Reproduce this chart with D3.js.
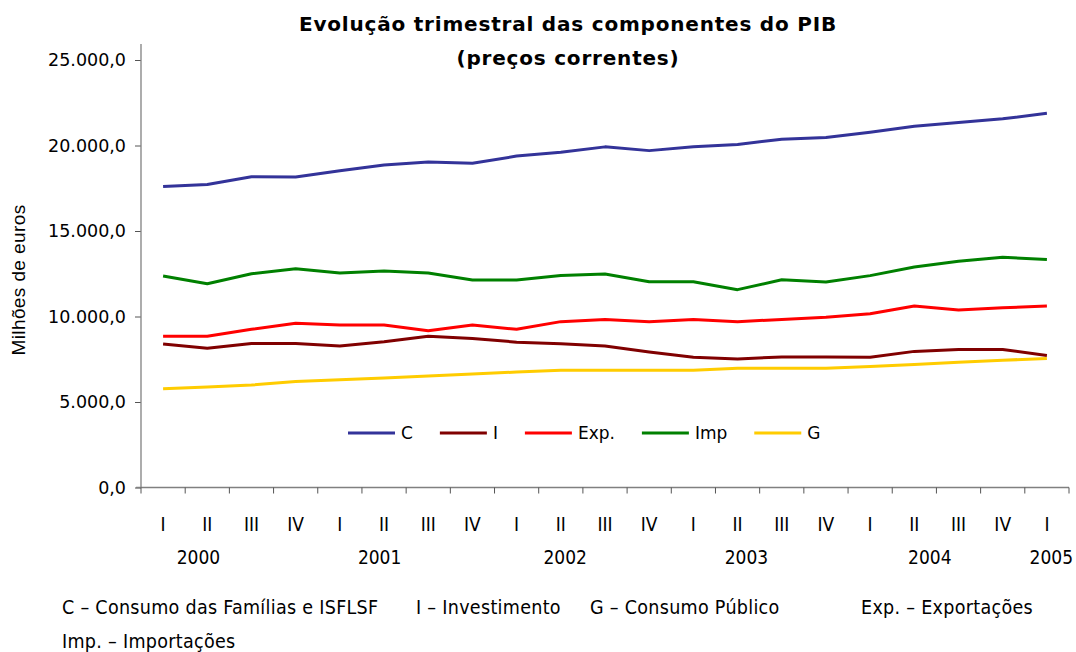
<!DOCTYPE html>
<html>
<head>
<meta charset="utf-8">
<script src="https://cdn.jsdelivr.net/npm/d3@7"></script>
<style>
  body { margin: 0; background: #fff; }
  svg { display: block; }
  .narrow { font-family: "Liberation Sans Narrow", "DejaVu Sans Condensed", "Arial Narrow", sans-serif; }
</style>
</head>
<body>
<div id="chart"></div>
<script>
// quarters 2000 I .. 2005 I
var quarters = ["I","II","III","IV","I","II","III","IV","I","II","III","IV","I","II","III","IV","I","II","III","IV","I"];
var years = ["2000","2001","2002","2003","2004","2005"];
var yearAt = [0.8, 4.9, 9.1, 13.2, 17.35, 20.1]; // category index under which each year label sits

var seriesC   = [17600,17720,18170,18160,18520,18860,19030,18960,19380,19600,19920,19700,19920,20060,20370,20470,20780,21130,21350,21560,21880];
var seriesI   = [8390,8150,8420,8420,8280,8520,8850,8720,8500,8400,8280,7930,7620,7520,7630,7630,7620,7960,8070,8070,7720];
var seriesExp = [8850,8850,9250,9600,9500,9500,9170,9500,9250,9700,9820,9690,9830,9690,9830,9950,10160,10610,10380,10510,10610];
var seriesImp = [12370,11920,12500,12790,12540,12660,12540,12140,12140,12400,12480,12030,12030,11570,12150,12020,12390,12890,13230,13460,13340];
var seriesG   = [5780,5870,5990,6200,6300,6400,6520,6640,6750,6850,6850,6850,6850,6970,6970,6970,7080,7200,7320,7440,7550];

var seriesNames = ["C","I","Exp.","Imp","G"];
var seriesColors = ["#333399","#800000","#ff0000","#008000","#ffcc00"];
var yTicks = [0,5000,10000,15000,20000,25000];

var footnotes = [
  {text:"C \u2013 Consumo das Famílias e ISFLSF", x:62, y:614},
  {text:"I \u2013 Investimento", x:416, y:614},
  {text:"G \u2013 Consumo Público", x:590, y:614},
  {text:"Exp. \u2013 Exportações", x:861, y:614},
  {text:"Imp. \u2013 Importações", x:62, y:648}
];

var width = 1076, height = 652;
var plot = {left:141, right:1069, top:44, bottom:487.5};

var svg = d3.select("#chart").append("svg")
    .attr("width", width)
    .attr("height", height);

var x = d3.scaleLinear().domain([-0.5, quarters.length - 0.5]).range([plot.left, plot.right]);
var y = d3.scaleLinear().domain([0, 25000]).range([plot.bottom, 60]);

var fmt = function(d) {
  return d3.format(",.1f")(d).replace(/,/g, "#").replace(".", ",").replace(/#/g, ".");
};

// title
svg.append("text")
    .attr("x", 568).attr("y", 31)
    .attr("text-anchor", "middle")
    .style("font-family", "DejaVu Sans, Verdana, sans-serif")
    .style("font-weight", "bold")
    .style("font-size", "20px")
    .style("letter-spacing", "0.8px")
    .text("Evolução trimestral das componentes do PIB");
svg.append("text")
    .attr("x", 568).attr("y", 65)
    .attr("text-anchor", "middle")
    .style("font-family", "DejaVu Sans, Verdana, sans-serif")
    .style("font-weight", "bold")
    .style("font-size", "20px")
    .style("letter-spacing", "0.8px")
    .text("(preços correntes)");

// y axis
var yAxis = d3.axisLeft(y).tickValues(yTicks).tickFormat(fmt).tickSize(6).tickPadding(9);
var gy = svg.append("g")
    .attr("transform", "translate(" + plot.left + ",0)")
    .call(yAxis);
gy.select(".domain").remove();
gy.selectAll(".tick line").attr("stroke", "#555");
gy.selectAll("text")
    .style("font-family", "DejaVu Sans, Verdana, sans-serif")
    .style("font-size", "17.5px")
    .attr("fill", "#000");
svg.append("line")
    .attr("x1", plot.left).attr("x2", plot.left)
    .attr("y1", plot.top).attr("y2", plot.bottom)
    .attr("stroke", "#808080").attr("stroke-width", 1.3);

svg.append("text")
    .attr("transform", "translate(25,280) rotate(-90)")
    .attr("text-anchor", "middle")
    .style("font-family", "Liberation Sans, Arial, sans-serif")
    .style("font-size", "19px")
    .style("letter-spacing", "0.4px")
    .text("Milhões de euros");

// x axis
var boundaries = d3.range(quarters.length + 1).map(function(i) { return i - 0.5; });
svg.append("line")
    .attr("x1", plot.left - 5).attr("x2", plot.right)
    .attr("y1", plot.bottom).attr("y2", plot.bottom)
    .attr("stroke", "#808080").attr("stroke-width", 1.3);
svg.selectAll(".xtick")
    .data(boundaries)
  .enter().append("line")
    .attr("class", "xtick")
    .attr("x1", function(d) { return x(d); })
    .attr("x2", function(d) { return x(d); })
    .attr("y1", plot.bottom)
    .attr("y2", plot.bottom + 6)
    .attr("stroke", "#555");

svg.selectAll(".qlabel")
    .data(quarters)
  .enter().append("text")
    .attr("class", "qlabel narrow")
    .attr("x", function(d, i) { return x(i); })
    .attr("y", 531)
    .attr("text-anchor", "middle")
    .style("font-size", "19px")
    .text(function(d) { return d; });

svg.selectAll(".ylabel")
    .data(years)
  .enter().append("text")
    .attr("class", "ylabel narrow")
    .attr("x", function(d, i) { return x(yearAt[i]); })
    .attr("y", 564)
    .attr("text-anchor", "middle")
    .style("font-size", "19px")
    .text(function(d) { return d; });

// lines
var allSeries = [seriesC, seriesI, seriesExp, seriesImp, seriesG];
var line = d3.line()
    .x(function(d, i) { return x(i); })
    .y(function(d) { return y(d); });

// draw order: G, I, Exp, Imp, C
[4,1,2,3,0].forEach(function(k) {
  svg.append("path")
      .datum(allSeries[k])
      .attr("d", line)
      .attr("fill", "none")
      .attr("stroke", seriesColors[k])
      .attr("stroke-width", 3)
      .attr("stroke-linejoin", "round");
});

// legend
var legend = svg.append("g").attr("transform", "translate(348,433)");
var lx = 0;
seriesNames.forEach(function(name, k) {
  var item = legend.append("g").attr("transform", "translate(" + lx + ",0)");
  item.append("line")
      .attr("x1", 0).attr("x2", 47)
      .attr("y1", 0).attr("y2", 0)
      .attr("stroke", seriesColors[k])
      .attr("stroke-width", 3);
  var t = item.append("text")
      .attr("x", 53).attr("y", 6)
      .style("font-family", "DejaVu Sans, Verdana, sans-serif")
      .style("font-size", "17px")
      .text(name);
  lx += 53 + t.node().getComputedTextLength() + 27;
});

// footnotes
svg.selectAll(".foot")
    .data(footnotes)
  .enter().append("text")
    .attr("class", "foot narrow")
    .attr("x", function(d) { return d.x; })
    .attr("y", function(d) { return d.y; })
    .style("font-size", "19.5px")
    .style("letter-spacing", "0.3px")
    .text(function(d) { return d.text; });
</script>
</body>
</html>
